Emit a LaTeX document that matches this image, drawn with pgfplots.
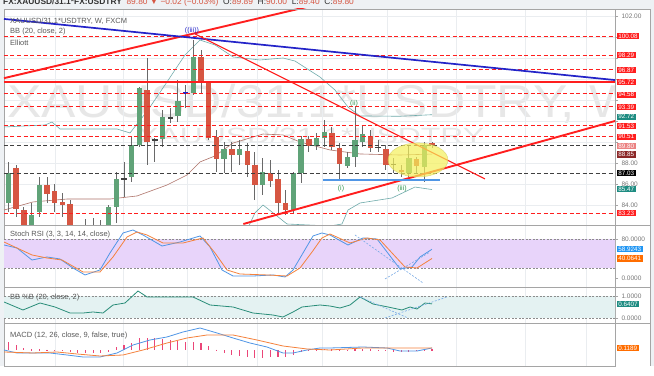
\documentclass[border=0pt]{standalone}
\usepackage{pgfplots}
\pgfplotsset{compat=1.18}
\usepackage{pgfplotstable}
\usepackage{fontspec}
\setmainfont{Liberation Sans}

\definecolor{cgreen}{RGB}{96,163,120}
\definecolor{cred}{RGB}{214,86,66}
\definecolor{lred}{RGB}{255,30,30}
\definecolor{tvblue}{RGB}{35,35,200}
\definecolor{bbteal}{RGB}{110,170,170}
\definecolor{bbbasis}{RGB}{175,115,105}
\definecolor{kblue}{RGB}{80,150,230}
\definecolor{dorange}{RGB}{245,130,60}
\definecolor{pctteal}{RGB}{40,140,120}
\definecolor{histpink}{RGB}{235,70,120}
\definecolor{stochfill}{RGB}{232,212,250}
\definecolor{pctfill}{RGB}{228,242,242}
\definecolor{hdrbg}{RGB}{238,241,244}
\definecolor{tealbox}{RGB}{30,140,130}
\definecolor{darkredbox}{RGB}{140,40,40}
\definecolor{lightredbox}{RGB}{235,130,130}
\definecolor{bluebox}{RGB}{33,150,243}
\definecolor{orangebox}{RGB}{255,109,0}
\definecolor{gridc}{RGB}{234,237,240}
\definecolor{axc}{RGB}{165,165,165}
\definecolor{wickc}{RGB}{105,105,105}
\definecolor{lbltext}{RGB}{120,120,120}
\definecolor{ellgreen}{RGB}{50,150,80}
\definecolor{dashblue}{RGB}{120,170,230}
\definecolor{wmark}{RGB}{231,231,231}
\definecolor{ellfill}{RGB}{245,240,90}

\pgfplotstableread{
i o h l c
0 84.19 88.10 83.33 87.05
3 81.00 84.19 80.00 83.05
4 83.33 86.67 82.86 85.90
10 81.00 82.70 80.50 81.50
12 81.20 82.60 80.80 81.60
13 81.60 84.00 81.00 83.81
14 83.81 87.14 82.29 86.48
16 86.67 90.48 86.19 89.71
17 89.71 95.24 89.50 95.14
20 90.29 93.05 89.52 92.38
22 92.48 95.90 91.90 93.90
24 94.67 99.71 94.48 98.10
28 88.38 90.00 87.05 89.33
30 88.76 90.19 87.81 89.33
33 85.90 88.48 84.95 87.14
37 83.52 87.14 83.24 87.05
38 87.05 90.57 86.10 90.29
40 89.62 90.86 89.24 90.38
41 90.38 92.10 89.52 90.95
44 87.71 89.05 87.52 88.57
45 88.57 93.33 87.62 90.19
46 90.00 91.62 89.52 90.76
52 87.05 89.62 86.67 88.48
54 87.62 90.00 86.19 89.71
}\upT

\pgfplotstableread{
i o h l c
1 87.52 87.81 82.86 83.62
2 83.52 83.81 80.50 81.50
5 85.90 86.67 84.19 85.05
6 85.33 86.00 83.33 84.19
7 84.29 85.14 82.86 84.00
8 84.10 84.48 81.00 81.80
9 81.40 82.00 80.50 81.00
11 81.50 82.75 80.60 81.20
18 94.95 98.00 87.81 90.00
25 98.10 98.76 94.67 95.62
26 95.62 95.70 90.19 90.38
27 90.48 91.14 87.14 88.38
29 89.33 90.00 87.14 88.76
31 89.14 89.90 86.67 87.81
32 87.81 89.05 84.48 85.90
34 87.05 88.29 85.71 86.29
35 86.48 87.33 83.24 84.19
36 84.19 85.43 83.05 83.52
39 90.29 90.57 89.05 89.62
42 90.86 91.43 89.24 89.52
43 89.43 89.90 86.38 87.90
47 90.57 91.14 89.05 89.43
49 89.33 89.71 87.33 87.81
51 87.33 87.81 86.67 87.14
53 88.38 88.57 87.05 87.71
55 89.89 90.00 89.40 89.80
}\downT

\pgfplotstableread{
i o h l c
15 86.43 88.10 84.76 86.53
19 90.15 90.38 88.10 90.25
21 92.25 93.24 91.81 92.35
48 89.47 90.19 89.05 89.57
50 87.85 88.48 87.05 87.95
}\dojiT

\pgfplotstableread{
i o h l c
23 94.62 95.43 93.24 94.72
}\blueT

\pgfplotstableread{
i v
0 0.49
1 0.29
2 0.10
3 0.04
4 0.04
5 0.02
6 -0.02
7 -0.04
8 -0.10
9 -0.20
10 -0.20
11 -0.20
12 -0.20
13 -0.10
14 0.16
15 0.29
16 0.39
17 0.69
18 0.69
19 0.69
20 0.65
21 0.59
22 0.55
23 0.49
24 0.49
25 0.43
26 0.24
27 0.02
28 -0.20
29 -0.29
30 -0.35
31 -0.39
32 -0.49
33 -0.49
34 -0.43
35 -0.43
36 -0.39
37 -0.29
38 -0.10
39 0.02
40 0.04
41 0.06
42 0.05
43 0.03
44 0.02
45 0.04
46 0.05
47 0.03
48 0.01
49 -0.03
50 -0.06
51 -0.08
52 -0.06
53 -0.04
54 0.02
55 0.03
}\histT

\pgfplotsset{
  panel/.style={
    scale only axis, width=611pt, anchor=south west,
    xmin=-0.5844, xmax=78.766,
    axis line style={axc, line width=0.8pt},
    xtick={6.04,14.87,23.18,32.27,40.71,49.16,58.12,67.08,75.0},
    xticklabels={}, xtick style={draw=none},
    xmajorgrids, major grid style={gridc, line width=0.6pt},
    clip mode=individual,
    ytick pos=right, yticklabel pos=right, tick align=outside,
    ytick style={axc}, major tick length=3pt,
    yticklabel style={font=\fontsize{6.5}{7}\selectfont, text=lbltext},
    /pgf/number format/assume math mode=true,
  },
}
\tikzset{
  vbox/.style={fill=#1, text=white, font=\fontsize{6.3}{6.5}\selectfont,
    inner xsep=1.6pt, inner ysep=0.9pt, anchor=west, xshift=1.5pt},
  lgd/.style={anchor=west, text=black!65, font=\fontsize{7.5}{8}\selectfont, inner sep=0pt},
}

\newcommand\candles[2]{%
  \addplot[draw=none, mark=none, forget plot,
    error bars/.cd, y dir=both, y explicit, error mark=none,
    error bar style={draw=wickc, line width=0.9pt, solid}]
    table[x=i, y expr={(\thisrow{h}+\thisrow{l})/2}, y error expr={(\thisrow{h}-\thisrow{l})/2}] {#1};
  \addplot[draw=none, mark=none, forget plot,
    error bars/.cd, y dir=both, y explicit, error mark=none,
    error bar style={draw=#2, line width=5.4pt, solid}]
    table[x=i, y expr={(\thisrow{o}+\thisrow{c})/2}, y error expr={abs(\thisrow{o}-\thisrow{c})/2}] {#1};
}

\begin{document}
\begin{tikzpicture}[x=1pt,y=1pt]
\fill[hdrbg] (0,0) rectangle (654,366);
\fill[white] (4,0) rectangle (650,357);

% watermark, clipped to the price panel
\begin{scope}
\clip (4,141) rectangle (615,357);
\node[overlay, anchor=base west, text=wmark, font=\fontsize{46}{46}\selectfont, xscale=1.12, inner sep=0pt] at (7,248) {XAUUSD/31.1*USDTRY, W};
\node[overlay, anchor=base west, text=wmark, font=\fontsize{22}{22}\selectfont, xscale=1.45, inner sep=0pt] at (137,222) {XAUUSD/31.1*USDTRY};
\end{scope}

% ---------------- main price panel ----------------
\begin{axis}[panel, at={(4pt,141pt)}, height=216pt, ymin=82.095, ymax=102.667,
  ytick={84,86,88,90,92,94,96,98,100,102},
  yticklabels={84.00,86.00,88.00,,,,,,,102.00},
  ymajorgrids]
\addplot[bbteal, line width=0.6pt] coordinates {(-0.58,91.43) (4.74,91.62) (5.65,91.90) (6.69,91.24) (7.73,91.24) (14.09,91.24) (15.78,90.86) (18.12,93.05) (20.32,95.43) (22.92,98.29) (24.87,99.71) (26.82,99.24) (29.16,98.10) (32.66,97.81) (35.65,98.0) (37.21,97.71) (40.45,96.19) (42.40,94.95) (44.09,93.33) (45.65,92.48) (50.84,92.45) (55,92.6)};
\addplot[bbteal, line width=0.6pt] coordinates {(-0.58,75.6) (10,76) (20,77) (25,76.5) (29,79) (30.2,80.8) (31.1,81.81) (32.0,83.24) (33.05,84.0) (34.22,83.33) (36.17,82.19) (41.75,82.0) (43.31,82.19) (44.09,83.52) (45.65,84.19) (49.81,84.67) (52.79,85.71) (55,85.47)};
\addplot[bbbasis, line width=0.6pt] coordinates {(-0.58,83.52) (3.18,84.29) (7.60,84.57) (13.18,84.57) (16.69,84.86) (20.58,85.90) (23.18,86.86) (24.87,88.10) (26.82,88.67) (29.16,89.90) (33.05,90.76) (35.65,90.67) (37.86,90.0) (41.75,89.24) (45.65,88.86) (50.84,88.76) (55,88.85)};
\candles{\upT}{cgreen}
\candles{\downT}{cred}
\candles{\dojiT}{black!75}
\candles{\blueT}{tvblue}
\addplot[lred, line width=0.9pt, dash pattern=on 4pt off 2.5pt] coordinates {(-0.5844,100.08) (78.766,100.08)};
\addplot[lred, line width=0.9pt, dash pattern=on 4pt off 2.5pt] coordinates {(-0.5844,98.29) (78.766,98.29)};
\addplot[lred, line width=0.9pt, dash pattern=on 4pt off 2.5pt] coordinates {(-0.5844,96.87) (78.766,96.87)};
\addplot[lred, line width=0.9pt, dash pattern=on 4pt off 2.5pt] coordinates {(-0.5844,94.58) (78.766,94.58)};
\addplot[lred, line width=0.9pt, dash pattern=on 4pt off 2.5pt] coordinates {(-0.5844,93.39) (78.766,93.39)};
\addplot[lred, line width=0.9pt, dash pattern=on 4pt off 2.5pt] coordinates {(-0.5844,91.53) (78.766,91.53)};
\addplot[lred, line width=0.9pt, dash pattern=on 4pt off 2.5pt] coordinates {(-0.5844,90.51) (78.766,90.51)};
\addplot[lred, line width=0.9pt, dash pattern=on 4pt off 2.5pt] coordinates {(-0.5844,83.23) (78.766,83.23)};
\addplot[lred, line width=1.6pt] coordinates {(-0.5844,95.72) (78.766,95.72)};
\addplot[black!75, line width=0.9pt, dash pattern=on 4pt off 2.5pt] coordinates {(-0.5844,89.65) (78.766,89.65)};
\addplot[black!75, line width=0.9pt, dash pattern=on 4pt off 2.5pt] coordinates {(-0.5844,87.03) (78.766,87.03)};
\addplot[lred, line width=1.9pt] coordinates {(-0.5844,96.08) (40,103.08)};
\addplot[tvblue, line width=1.7pt] coordinates {(-0.5844,101.72) (78.766,95.90)};
\addplot[lred, line width=1.1pt] coordinates {(24.22,100.29) (61.88,86.48)};
\addplot[lred, line width=1.9pt] coordinates {(30.5,82.19) (78.766,92.0)};
\addplot[kblue, line width=1.1pt] coordinates {(40.84,86.38) (56,86.38)};
\fill[ellfill, opacity=0.7] (axis cs:53.18,88.29) ellipse [x radius=30pt, y radius=17pt];
\draw[ellfill!70!gray, line width=0.5pt, opacity=0.7] (axis cs:53.18,88.29) ellipse [x radius=30pt, y radius=17pt];
\node[text=tvblue, font=\fontsize{7}{7}\selectfont] at (axis cs:23.83,100.62) {((iii))};
\node[text=ellgreen, font=\fontsize{7}{7}\selectfont] at (axis cs:44.87,93.62) {(ii)};
\node[text=ellgreen, font=\fontsize{7}{7}\selectfont] at (axis cs:43.18,85.52) {(i)};
\node[text=ellgreen, font=\fontsize{7}{7}\selectfont] at (axis cs:51.10,85.52) {(iii)};
\node[vbox=lred] at (axis cs:78.766,100.08) {100.08};
\node[vbox=lred] at (axis cs:78.766,98.29) {98.29};
\node[vbox=lred] at (axis cs:78.766,96.87) {96.87};
\node[vbox=lred] at (axis cs:78.766,95.72) {95.72};
\node[vbox=lred] at (axis cs:78.766,94.50) {94.58};
\node[vbox=lred] at (axis cs:78.766,93.33) {93.39};
\node[vbox=tealbox] at (axis cs:78.766,92.40) {92.72};
\node[vbox=lred] at (axis cs:78.766,91.53) {91.53};
\node[vbox=lred] at (axis cs:78.766,90.51) {90.51};
\node[vbox=lightredbox] at (axis cs:78.766,89.62) {89.80};
\node[vbox=darkredbox] at (axis cs:78.766,88.80) {88.85};
\node[vbox=black] at (axis cs:78.766,87.03) {87.03};
\node[vbox=tealbox] at (axis cs:78.766,85.50) {85.47};
\node[vbox=lred] at (axis cs:78.766,83.23) {83.23};
\end{axis}

% ---------------- Stoch RSI ----------------
\begin{axis}[panel, at={(4pt,79pt)}, height=62pt, ymin=-18.46, ymax=108.7, ytick={0,80},
  /pgf/number format/fixed, /pgf/number format/fixed zerofill, /pgf/number format/precision=4]
\addplot[fill=stochfill, draw=none, forget plot] coordinates {(-1,20) (80,20) (80,80) (-1,80)} -- cycle;
\addplot[black!45, line width=0.6pt, dash pattern=on 2pt off 1.5pt] coordinates {(-1,80) (80,80)};
\addplot[black!45, line width=0.6pt, dash pattern=on 2pt off 1.5pt] coordinates {(-1,20) (80,20)};
\addplot[kblue, line width=0.8pt, line join=round] coordinates {(-0.58,67.7) (1.10,61.5) (3.05,36.9) (5.0,43.1) (6.69,39.0) (8.38,20.5) (9.94,6.2) (11.88,16.4) (13.18,51.3) (14.87,92.3) (16.17,98.5) (17.47,88.2) (19.94,65.6) (22.27,73.8) (24.87,86.2) (26.17,63.6) (27.73,16.4) (29.16,4.1) (31.75,4.1) (34.35,6.2) (35.91,2.1) (36.95,16.4) (38.25,51.3) (39.55,86.2) (40.71,92.3) (41.75,88.2) (44.09,67.7) (46.04,82.1) (47.86,80.0) (49.16,53.3) (50.84,18.5) (52.40,22.6) (53.44,43.1) (55,58.92)};
\addplot[dorange, line width=0.8pt, line join=round] coordinates {(-0.58,73.8) (3.05,47.2) (5.0,41.0) (6.95,36.9) (9.68,12.3) (11.88,12.3) (13.57,43.1) (15.39,84.1) (16.69,94.4) (17.99,88.2) (20.06,71.8) (22.66,71.8) (25.26,82.1) (26.82,51.3) (28.38,16.4) (30.06,8.2) (33.62,6.2) (36.17,4.1) (37.86,20.5) (39.42,53.3) (40.71,82.1) (41.75,90.3) (44.35,71.8) (46.56,82.1) (48.25,77.9) (49.81,51.3) (51.49,22.6) (53.05,20.5) (55,40.06)};
\addplot[dashblue, line width=0.6pt, dash pattern=on 2pt off 1.5pt] coordinates {(45.0,88.2) (53.83,-10.2)};
\addplot[dashblue, line width=0.6pt, dash pattern=on 2pt off 1.5pt] coordinates {(48.9,-2.0) (54.74,53.3)};
\node[vbox=bluebox] at (axis cs:78.766,58.92) {58.9243};
\node[vbox=orangebox] at (axis cs:78.766,40.06) {40.0641};
\end{axis}

% ---------------- BB %B ----------------
\begin{axis}[panel, at={(4pt,43pt)}, height=36pt, ymin=-0.227, ymax=1.409, ytick={0,1},
  /pgf/number format/fixed, /pgf/number format/fixed zerofill, /pgf/number format/precision=4]
\addplot[fill=pctfill, draw=none, forget plot] coordinates {(-1,0) (80,0) (80,1) (-1,1)} -- cycle;
\addplot[black!45, line width=0.6pt, dash pattern=on 2pt off 1.5pt] coordinates {(-1,1) (80,1)};
\addplot[black!45, line width=0.6pt, dash pattern=on 2pt off 1.5pt] coordinates {(-1,0) (80,0)};
\addplot[pctteal, line width=0.8pt, line join=round] coordinates {(-0.58,0.727) (1.88,0.364) (4.09,0.682) (6.04,0.5) (7.99,0.227) (9.68,0.227) (10.97,0.273) (12.27,0.227) (13.57,0.591) (15.13,0.682) (16.82,1.227) (17.99,0.955) (19.29,0.955) (21.36,0.955) (23.96,0.955) (26.17,0.591) (29.16,0.5) (31.75,0.227) (34.35,0.136) (35.65,0.045) (36.95,0.273) (38.12,0.5) (40.45,0.591) (41.75,0.545) (43.05,0.455) (44.35,0.591) (45.65,0.955) (47.34,0.636) (49.29,0.5) (51.10,0.364) (52.14,0.5) (53.05,0.409) (54.09,0.682) (55,0.6407)};
\addplot[dashblue, line width=0.6pt, dash pattern=on 2pt off 1.5pt] coordinates {(45.65,0.955) (51.88,0)};
\addplot[dashblue, line width=0.6pt, dash pattern=on 2pt off 1.5pt] coordinates {(48.9,0) (56.95,0.955)};
\node[vbox=tealbox] at (axis cs:78.766,0.6407) {0.6407};
\end{axis}

% ---------------- MACD ----------------
\begin{axis}[panel, at={(4pt,0pt)}, height=43pt, ymin=-0.941, ymax=1.588, ytick=\empty]
\addplot[draw=none, mark=none, forget plot,
    error bars/.cd, y dir=both, y explicit, error mark=none,
    error bar style={draw=histpink, line width=1.1pt, solid}]
  table[x=i, y expr={\thisrow{v}/2}, y error expr={abs(\thisrow{v})/2}] {\histT};
\addplot[kblue, line width=0.8pt, line join=round] coordinates {(-0.58,0) (1.10,-0.176) (3.18,-0.176) (5.39,-0.176) (7.60,-0.294) (9.68,-0.412) (11.88,-0.412) (14.09,-0.176) (16.17,0.294) (18.38,0.588) (20.58,0.765) (22.66,1.059) (24.87,1.294) (27.08,1.0) (29.16,0.706) (31.36,0.412) (33.57,0.176) (35.65,-0.176) (36.95,-0.176) (38.77,0) (40.45,0.118) (41.75,0.118) (46.04,0.176) (49.16,0.118) (50.84,-0.059) (53.05,-0.059) (55,0.118)};
\addplot[dorange, line width=0.8pt, line join=round] coordinates {(-0.58,-0.118) (3.18,-0.176) (6.30,-0.118) (8.90,-0.235) (11.88,-0.353) (14.87,-0.294) (17.47,0) (20.58,0.412) (23.18,0.706) (25.78,0.882) (29.16,0.882) (32.27,0.588) (35.65,0.235) (38.77,0.059) (41.75,0) (46.04,0.118) (50.45,0.118) (55,0.118)};
\node[vbox=orangebox] at (axis cs:78.766,0.1189) {0.1189};
\end{axis}

\draw[axc, line width=0.8pt] (4,357) -- (650,357);
\draw[axc, line width=0.8pt] (4,141) -- (650,141);
\draw[axc, line width=0.8pt] (4,79) -- (650,79);
\draw[axc, line width=0.8pt] (4,43) -- (650,43);
\draw[axc, line width=0.8pt] (650,0) -- (650,357);

\node[lgd] at (10,345) {XAUUSD/31.1*USDTRY, W, FXCM};
\node[lgd] at (10,334) {BB (20, close, 2)};
\node[lgd] at (10,323) {Elliott};
\node[lgd] at (10,131) {Stoch RSI (3, 3, 14, 14, close)};
\node[lgd] at (10,68) {BB \%B (20, close, 2)};
\node[lgd] at (10,30) {MACD (12, 26, close, 9, false, true)};

\begin{scope}
\clip (0,357) rectangle (654,366);
\node[overlay, anchor=base west, inner sep=0pt, font=\fontsize{8.4}{9}\selectfont, text=black!80] at (3,361)
  {\textbf{FX:XAUUSD/31.1*FX:USDTRY}\ \ {\color{cred}89.80 ▼ −0.02 (−0.03\%)}\ \ O:{\color{cred}89.89}\ \ H:{\color{cred}90.00}\ \ L:{\color{cred}89.40}\ \ C:{\color{cred}89.80}};
\end{scope}
\end{tikzpicture}
\end{document}
